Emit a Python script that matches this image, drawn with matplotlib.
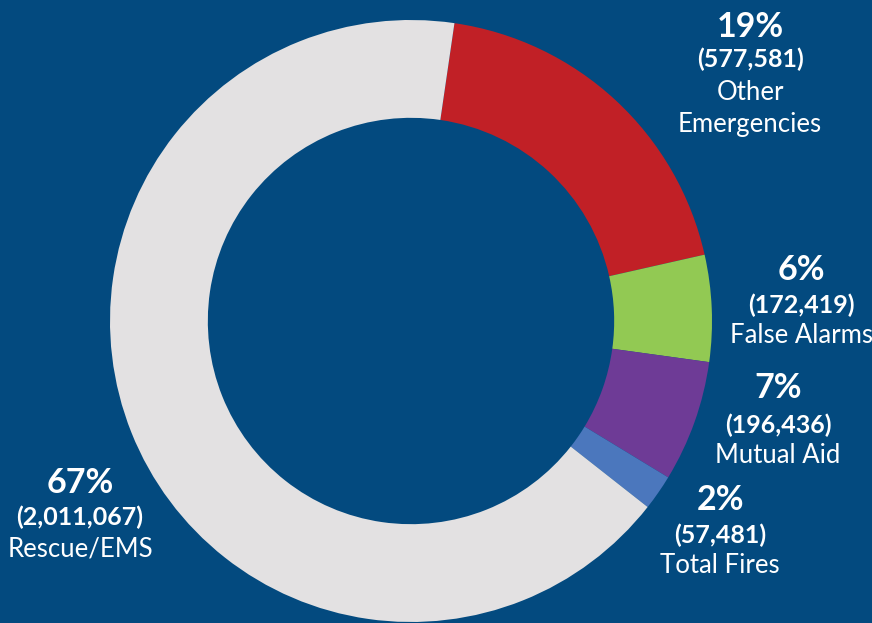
import matplotlib.pyplot as plt

# Incident counts by call type, drawn clockwise from the top
categories = ['Other\nEmergencies', 'False Alarms', 'Mutual Aid', 'Total Fires', 'Rescue/EMS']
counts = [577581, 172419, 196436, 57481, 2011067]
percents = ['19%', '6%', '7%', '2%', '67%']
colors = ['#C12026', '#92C953', '#6E3B96', '#4B77BD', '#E3E1E2']

# label centre x and baselines (percent, count, name) in pixels from the top
label_x = [750, 801, 778, 720, 80]
label_base = [(37, 67, 100), (280, 313, 343), (398, 433, 463),
              (510, 543, 573), (493, 525, 557)]

BG = '#034A7F'
W, H = 872, 623

fig = plt.figure(figsize=(W / 100, H / 100), dpi=100, facecolor=BG)
ax = fig.add_axes([0, 0, 1, 1])
ax.set_facecolor(BG)

cx, cy, r = 411, H - 321, 301
ax.pie(counts, colors=colors, startangle=81.7, counterclock=False,
       center=(cx, cy), radius=r, wedgeprops=dict(width=r * 0.325, linewidth=0))

ax.set_xlim(0, W)
ax.set_ylim(0, H)
ax.set_aspect('equal')
ax.axis('off')

font = 'Lato'
for cat, n, pct, x, (yp, yn, yc) in zip(categories, counts, percents, label_x, label_base):
    ax.text(x, H - yp, pct, ha='center', va='baseline', color='white',
            fontsize=24.5, fontweight='bold', family=font)
    ax.text(x, H - yn, f'({n:,})', ha='center', va='baseline', color='white',
            fontsize=18, fontweight='bold', family=font)
    ax.text(x, H - yc, cat.split('\n')[0], ha='center', va='baseline', color='white',
            fontsize=18.5, family=font)
    if '\n' in cat:
        ax.text(x, H - yc - 32, cat.split('\n')[1], ha='center', va='baseline',
                color='white', fontsize=18.5, family=font)

fig.savefig('out.png', dpi=100, facecolor=BG)
